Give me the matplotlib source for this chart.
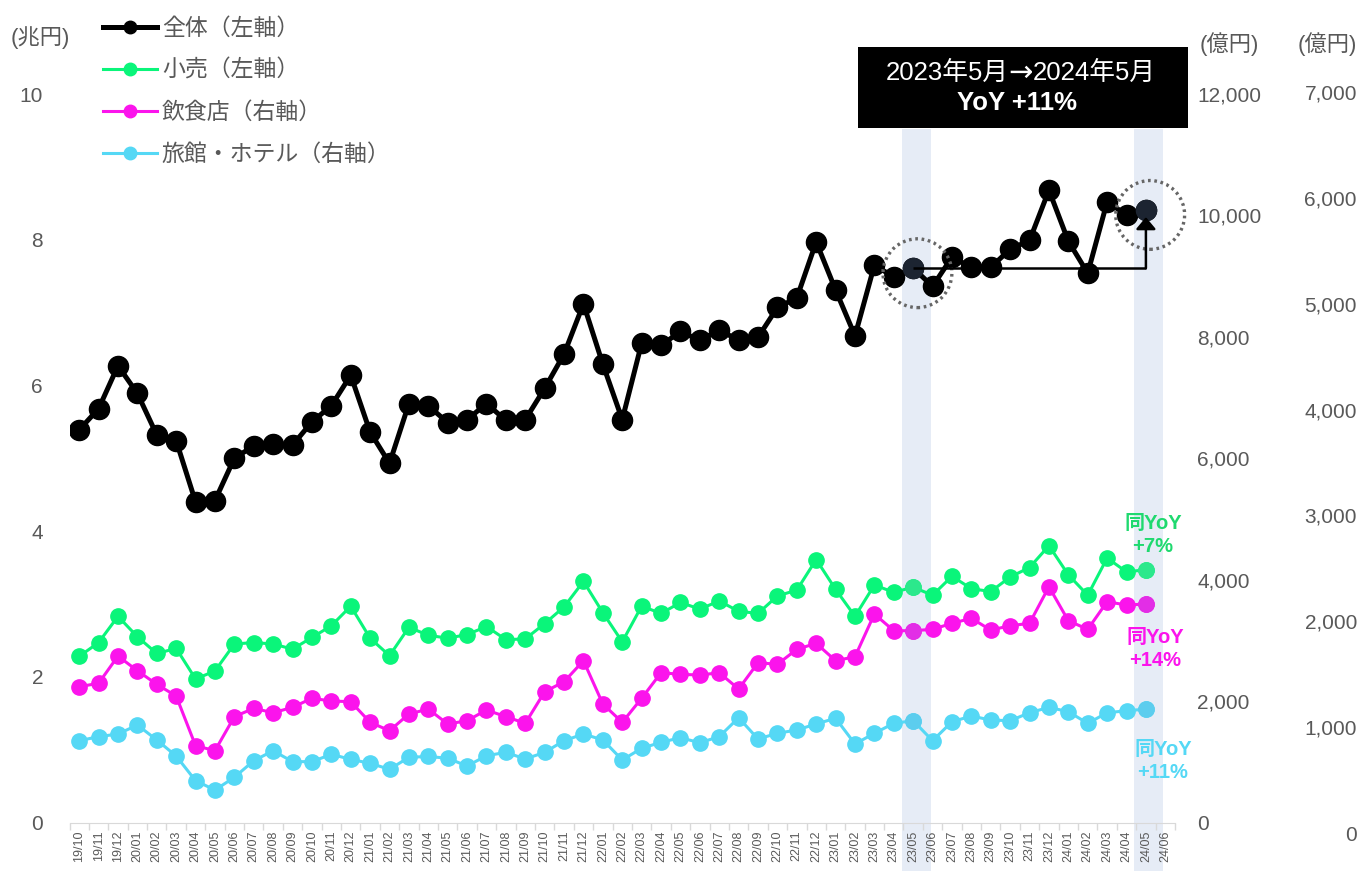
import matplotlib
matplotlib.use('Agg')
import numpy as np
import matplotlib.pyplot as plt
from matplotlib.patches import Rectangle, Ellipse
from matplotlib.lines import Line2D
import matplotlib.transforms as mtransforms

plt.rcParams['font.family'] = ['Liberation Sans', 'Noto Sans CJK JP']

# ---------------- data ----------------
months = ['19/10', '19/11', '19/12',
          '20/01', '20/02', '20/03', '20/04', '20/05', '20/06', '20/07', '20/08', '20/09', '20/10', '20/11', '20/12',
          '21/01', '21/02', '21/03', '21/04', '21/05', '21/06', '21/07', '21/08', '21/09', '21/10', '21/11', '21/12',
          '22/01', '22/02', '22/03', '22/04', '22/05', '22/06', '22/07', '22/08', '22/09', '22/10', '22/11', '22/12',
          '23/01', '23/02', '23/03', '23/04', '23/05', '23/06', '23/07', '23/08', '23/09', '23/10', '23/11', '23/12',
          '24/01', '24/02', '24/03', '24/04', '24/05', '24/06']

# 全体 (兆円, left axis)
total = [5.39, 5.68, 6.27,
         5.89, 5.32, 5.24, 4.40, 4.42, 5.00, 5.17, 5.19, 5.18, 5.50, 5.72, 6.14,
         5.36, 4.93, 5.75, 5.72, 5.49, 5.53, 5.75, 5.52, 5.53, 5.96, 6.43, 7.12,
         6.29, 5.53, 6.58, 6.55, 6.74, 6.62, 6.76, 6.62, 6.66, 7.07, 7.20, 7.97,
         7.31, 6.68, 7.65, 7.49, 7.61, 7.36, 7.76, 7.62, 7.62, 7.87, 7.99, 8.68,
         7.98, 7.54, 8.52, 8.34, 8.41]
# 小売 (兆円, left axis)
retail = [2.28, 2.47, 2.83,
          2.55, 2.32, 2.39, 1.97, 2.08, 2.45, 2.47, 2.45, 2.38, 2.54, 2.70, 2.97,
          2.53, 2.29, 2.68, 2.57, 2.53, 2.58, 2.69, 2.51, 2.52, 2.73, 2.96, 3.31,
          2.88, 2.48, 2.97, 2.87, 3.02, 2.93, 3.04, 2.90, 2.87, 3.11, 3.19, 3.61,
          3.20, 2.83, 3.26, 3.16, 3.23, 3.12, 3.38, 3.21, 3.17, 3.37, 3.50, 3.80,
          3.40, 3.12, 3.63, 3.44, 3.47]
# 飲食店 (億円, right axis 0-12,000)
restaurant = [2237, 2293, 2742,
              2500, 2276, 2083, 1265, 1183, 1743, 1881, 1808, 1897, 2046, 2001, 1990,
              1650, 1512, 1787, 1869, 1622, 1677, 1853, 1743, 1634, 2154, 2319, 2665,
              1952, 1650, 2046, 2467, 2441, 2429, 2467, 2199, 2632, 2606, 2853, 2951,
              2665, 2731, 3434, 3159, 3159, 3182, 3281, 3363, 3170, 3241, 3281, 3884,
              3324, 3182, 3637, 3582, 3599]
# 旅館・ホテル (億円, right axis 0-7,000)
hotel = [872, 910, 935,
         1020, 879, 727, 494, 406, 526, 683, 777, 674, 674, 743, 696,
         658, 602, 715, 723, 706, 633, 730, 762, 699, 762, 872, 935,
         879, 690, 800, 857, 900, 853, 910, 1089, 888, 942, 973, 1030,
         1084, 841, 942, 1036, 1061, 872, 1051, 1105, 1067, 1061, 1136, 1187,
         1146, 1036, 1136, 1155, 1170]

series_labels = ['全体（左軸）', '小売（左軸）', '飲食店（右軸）', '旅館・ホテル（右軸）']
left_ticks = [0, 2, 4, 6, 8, 10]
mid_ticks = [0, 2000, 4000, 6000, 8000, 10000, 12000]
right_ticks = [0, 1000, 2000, 3000, 4000, 5000, 6000, 7000]
hl_from = '23/05'
hl_to = '24/05'
box_from = '2023年5月'
box_to = '2024年5月'
box_yoy = 'YoY +11%'
yoy_texts = ['同YoY\n+7%', '同YoY\n+14%', '同YoY\n+11%']

# ---------------- style ----------------
C_TOTAL = '#000000'
C_RETAIL = '#0af57a'
C_REST = '#fb14ec'
C_HOTEL = '#55d8f5'
GRAY = '#595959'

W, H = 1365, 871
def fx(x): return x / W
def fy(y): return 1 - y / H

fig = plt.figure(figsize=(W / 100, H / 100), dpi=100)
L, R, T, B = 69.5, 1175, 94, 822.5
ax = fig.add_axes([fx(L), fy(B), (R - L) / W, (B - T) / H])
ax2 = ax.twinx()
ax3 = fig.add_axes([fx(L), fy(833), (R - L) / W, (833 - 92) / H])
ax3.patch.set_visible(False)

n = len(total)
x = np.arange(n)
i0 = months.index(hl_from)
i1 = months.index(hl_to)

# highlight bands
blend = mtransforms.blended_transform_factory(ax.transData, ax.transAxes)
for i in (i0, i1):
    ax.add_patch(Rectangle((i - 0.6, -0.068), 1.5, 1.02, transform=blend,
                           facecolor='#e6ecf6', edgecolor='none', clip_on=False, zorder=0.2))

# lines
ax.plot(x, total, '-o', color=C_TOTAL, lw=3.6, ms=14.5, zorder=3)
ax.plot(x, retail, '-o', color=C_RETAIL, lw=2.2, ms=11, zorder=3)
ax2.plot(x, restaurant, '-o', color=C_REST, lw=2.2, ms=11, zorder=3)
ax3.plot(x, hotel, '-o', color=C_HOTEL, lw=2.2, ms=11, zorder=3)

for i in (i0, i1):
    ax.plot(i, total[i], 'o', color='#1c2431', ms=14.5, zorder=3.5)
    ax.plot(i, retail[i], 'o', color='#2ce88c', ms=11, zorder=3.5)
    ax2.plot(i, restaurant[i], 'o', color='#e22ee6', ms=11, zorder=3.5)
    ax3.plot(i, hotel[i], 'o', color='#5ccdee', ms=11, zorder=3.5)

# dotted circles + arrow
for i in (i0, i1):
    ax.add_patch(Ellipse((i + 0.22, total[i] - 0.07), 3.55, 0.945, fill=False,
                         edgecolor='#666666', lw=2.4, linestyle=(0, (0.8, 1.1)),
                         zorder=4, clip_on=False))
ax.plot([i0, i1], [total[i0], total[i0]], color='black', lw=1.8, zorder=4,
        solid_capstyle='butt')
ax.annotate('', xy=(i1, total[i1] - 0.1), xytext=(i1, total[i0]),
            arrowprops=dict(arrowstyle='-|>,head_length=0.6,head_width=0.5',
                            color='black', lw=1.8, shrinkA=0, shrinkB=0,
                            mutation_scale=12), zorder=5)

# axes limits
for a in (ax, ax2, ax3):
    a.set_xlim(-0.5, len(months) - 0.5)
ax.set_ylim(0, 10)
ax2.set_ylim(0, 12000)
ax3.set_ylim(0, 7000)

# x axis
ax.set_xticks(np.arange(len(months)))
ax.set_xticklabels(months, rotation=90, fontsize=9, color=GRAY)
ax.set_xticks(np.arange(len(months) + 1) - 0.5, minor=True)
ax.tick_params(axis='x', which='major', length=0, pad=6)
ax.tick_params(axis='x', which='minor', length=5, color='#d9d9d9', width=1)

# left axis
ax.set_yticks(left_ticks)
ax.set_yticklabels([str(v) for v in left_ticks])
ax.tick_params(axis='y', length=0, pad=19, labelsize=15, labelcolor=GRAY)

# middle axis
ax2.set_yticks(mid_ticks)
ax2.set_yticklabels([f'{v:,}' for v in mid_ticks])
ax2.tick_params(axis='y', length=0, pad=16, labelsize=15, labelcolor=GRAY)

# right axis
ax3.set_yticks(right_ticks)
ax3.set_yticklabels([f'{v:,}' for v in right_ticks])
ax3.yaxis.tick_right()
ax3.tick_params(axis='y', length=0, pad=131, labelsize=15, labelcolor=GRAY)
plt.setp(ax3.get_yticklabels(), ha='right')
ax3.xaxis.set_visible(False)

for s in ('top', 'left', 'right'):
    ax.spines[s].set_visible(False)
ax.spines['bottom'].set_color('#d9d9d9')
for a in (ax2, ax3):
    for s in a.spines.values():
        s.set_visible(False)

# unit labels
fig.text(fx(40), fy(38), '(兆円)', fontsize=16, color=GRAY, ha='center', va='center')
fig.text(fx(1229), fy(44), '(億円)', fontsize=16, color=GRAY, ha='center', va='center')
fig.text(fx(1327), fy(44), '(億円)', fontsize=16, color=GRAY, ha='center', va='center')

# legend
handles = [Line2D([], [], color=C_TOTAL, lw=3.6, marker='o', ms=9),
           Line2D([], [], color=C_RETAIL, lw=2.2, marker='o', ms=9),
           Line2D([], [], color=C_REST, lw=2.2, marker='o', ms=9),
           Line2D([], [], color=C_HOTEL, lw=2.2, marker='o', ms=9)]
leg = fig.legend(handles, series_labels, loc='upper left',
                 bbox_to_anchor=(fx(103), fy(17)), frameon=False, fontsize=16.5,
                 handlelength=2.35, handletextpad=0.22, labelspacing=0.83,
                 borderpad=0, borderaxespad=0)
for t in leg.get_texts():
    t.set_color(GRAY)

# annotation box
fig.patches.append(Rectangle((fx(858), fy(128)), (1188 - 858) / W, (128 - 47) / H,
                             transform=fig.transFigure, facecolor='black',
                             edgecolor='none', zorder=5))
fig.text(fx(1009), fy(73), box_from, color='white', fontsize=18.5, ha='right',
         va='center', zorder=6)
fig.text(fx(1021), fy(73), '→', color='white', fontsize=21, ha='center',
         va='center', zorder=6, family='DejaVu Sans')
fig.text(fx(1033), fy(73), box_to, color='white', fontsize=18.5, ha='left',
         va='center', zorder=6)
fig.text(fx(1017), fy(103), box_yoy, color='white', fontsize=18.5, ha='center',
         va='center', fontweight='bold', zorder=6)

# YoY texts
fig.text(fx(1153), fy(535), yoy_texts[0], color='#1fd96f', fontsize=14.5,
         fontweight='bold', ha='center', va='center', multialignment='center',
         linespacing=1.25)
fig.text(fx(1155), fy(649), yoy_texts[1], color=C_REST, fontsize=14.5,
         fontweight='bold', ha='center', va='center', multialignment='center',
         linespacing=1.25)
fig.text(fx(1163), fy(761), yoy_texts[2], color=C_HOTEL, fontsize=14.5,
         fontweight='bold', ha='center', va='center', multialignment='center',
         linespacing=1.25)

fig.savefig('out.png', dpi=100)
